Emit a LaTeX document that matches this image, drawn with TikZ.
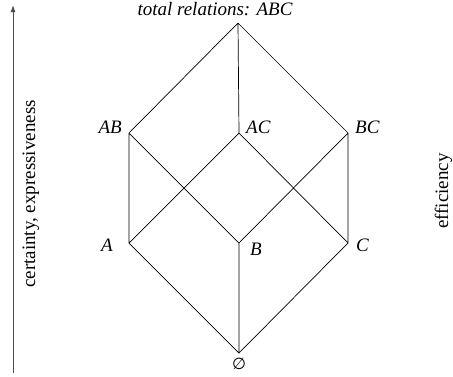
\documentclass[tikz,border=0pt]{standalone}
\usepackage{fontspec}
\setmainfont{Liberation Serif}
\newfontfamily\symfont{DejaVu Sans}
\usetikzlibrary{arrows.meta}
\begin{document}
\begin{tikzpicture}[x=1pt,y=-1pt,
  edge/.style={draw=black,line width=0.7pt},
  lbl/.style={font=\fontsize{19}{22}\selectfont\itshape,inner sep=0pt},
  side/.style={font=\fontsize{19}{22}\selectfont,inner sep=0pt,rotate=90}]
\useasboundingbox (0,0) rectangle (453,376);
\coordinate (T) at (238,23);
\coordinate (AB) at (129,133);
\coordinate (AC) at (239,133);
\coordinate (BC) at (348,133);
\coordinate (A) at (129,243);
\coordinate (B) at (239,243);
\coordinate (C) at (348,243);
\coordinate (E) at (239,353);
\draw[edge] (T)--(AB) (T)--(AC) (T)--(BC)
  (AB)--(A) (AB)--(B) (AC)--(A) (AC)--(C) (BC)--(B) (BC)--(C)
  (A)--(E) (B)--(E) (C)--(E);
\node[lbl,anchor=base] (lT) at (215,15) {total relations: ABC};
\node[lbl,anchor=base east] (lAB) at (122,133) {AB};
\node[lbl,anchor=base west] (lAC) at (246,133) {AC};
\node[lbl,anchor=base west] (lBC) at (355,133) {BC};
\node[lbl,anchor=base east] (lA) at (113,251) {A};
\node[lbl,anchor=base west] (lB) at (250,255) {B};
\node[lbl,anchor=base west] (lC) at (356,251) {C};
\node[lbl,anchor=base,font=\fontsize{16}{19}\symfont] (lE) at (239,369) {∅};
\coordinate (ab) at (13,373);
\coordinate (at) at (13,5);
\draw[draw=black!70,line width=1pt,-{Latex[length=7pt,width=5pt]}] (ab)--(at);
\node[side,anchor=base] (lcert) at (35,194) {certainty, expressiveness};
\node[side,anchor=base] (leff) at (448,191) {efficiency};
\end{tikzpicture}
\end{document}
